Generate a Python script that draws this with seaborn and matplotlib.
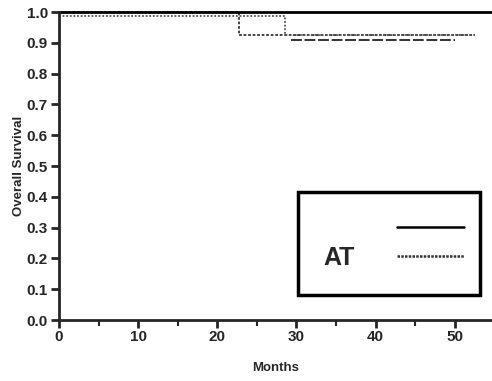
import pandas as pd
import matplotlib
matplotlib.use("Agg")
import matplotlib.pyplot as plt
from matplotlib.lines import Line2D
import seaborn as sns

# survival curves (months, survival)
time_all = [0, 54.7]
surv_all = [1.0, 1.0]

time_grp1 = [0, 22.7, 52.5]
surv_grp1 = [1.0, 0.925, 0.925]

time_at = [0, 28.6, 52.5]
surv_at = [0.986, 0.925, 0.925]

time_low = [29.3, 50.0]
surv_low = [0.908, 0.908]

legend_labels = ["", "AT"]

sns.set_style("ticks")
plt.rcParams['font.family'] = ['Liberation Sans', 'DejaVu Sans']
plt.rcParams['font.weight'] = 'bold'

fig = plt.figure(figsize=(4.92, 3.81), dpi=100)
ax = fig.add_axes([0.12, 0.16, 0.88, 0.8085])

df_all = pd.DataFrame({"Months": time_all, "surv": surv_all})
df_g1 = pd.DataFrame({"Months": time_grp1, "surv": surv_grp1})
df_at = pd.DataFrame({"Months": time_at, "surv": surv_at})
df_low = pd.DataFrame({"Months": time_low, "surv": surv_low})

sns.lineplot(data=df_g1, x="Months", y="surv", ax=ax, color="#333333", lw=1.3,
             linestyle=(0, (1.5, 1)), drawstyle="steps-post", estimator=None, sort=False)
sns.lineplot(data=df_at, x="Months", y="surv", ax=ax, color="#555555", lw=1.3,
             linestyle=(0, (1, 1)), drawstyle="steps-post", estimator=None, sort=False)
sns.lineplot(data=df_low, x="Months", y="surv", ax=ax, color="#222222", lw=1.3,
             linestyle=(0, (6, 1.5)), drawstyle="steps-post", estimator=None, sort=False)
sns.lineplot(data=df_all, x="Months", y="surv", ax=ax, color="black", lw=2,
             drawstyle="steps-post", estimator=None, sort=False)
for ln in ax.lines:
    ln.set_clip_on(False)

ax.set_xlim(0, 54.7)
ax.set_ylim(0, 1.0)
ax.set_xticks([0, 10, 20, 30, 40, 50])
ax.set_xticks([5, 15, 25, 35, 45], minor=True)
ax.set_yticks([i / 10 for i in range(11)])
ax.set_yticklabels([f"{i / 10:.1f}" for i in range(11)])

sns.despine(ax=ax)
for s in ["left", "bottom"]:
    ax.spines[s].set_linewidth(2)
ax.tick_params(axis="both", which="major", length=6, width=2, labelsize=11, pad=2)
ax.tick_params(axis="x", which="major", pad=1)
ax.tick_params(axis="x", which="minor", length=4, width=1.5)
for lab in ax.get_xticklabels() + ax.get_yticklabels():
    lab.set_fontweight("bold")

ax.set_xlabel("Months", fontsize=9.5, fontweight="bold", labelpad=13)
ax.set_ylabel("Overall Survival", fontsize=9.5, fontweight="bold", labelpad=1)

handles = [Line2D([], [], color="black", lw=1.8),
           Line2D([], [], color="#333333", lw=1.8, linestyle=(0, (1, 0.5)))]
leg = ax.legend(handles, legend_labels, loc="upper left",
                bbox_to_anchor=(0.552, 0.071, 0.42, 0.345), mode="expand",
                borderaxespad=0, markerfirst=False, handlelength=2.7,
                handletextpad=1.7, fontsize=18, labelspacing=0.2,
                borderpad=1.0, fancybox=False,
                framealpha=1, edgecolor="black")
leg.get_frame().set_linewidth(2.5)
for t in leg.get_texts():
    t.set_fontweight("bold")

fig.savefig("out.png", dpi=100)
